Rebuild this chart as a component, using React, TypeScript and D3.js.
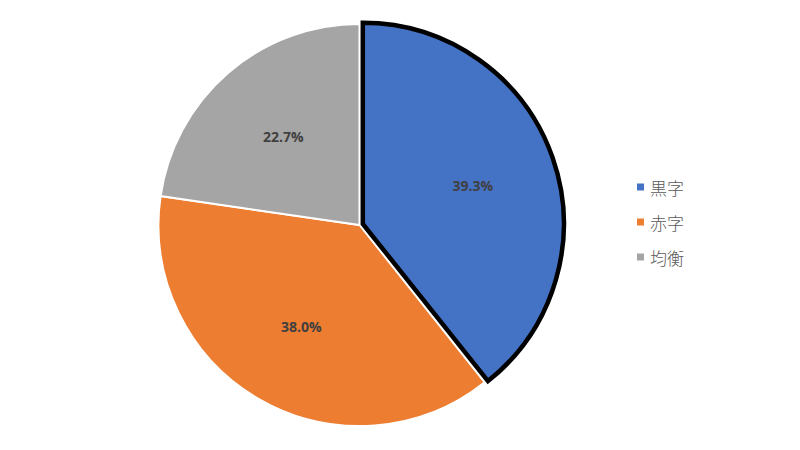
import React, { useEffect, useRef } from "react";
import * as d3 from "d3";

const categories = ["黒字", "赤字", "均衡"];
const values = [39.3, 38.0, 22.7];
const colors = ["#4472C4", "#ED7D31", "#A5A5A5"];

export default function App() {
  const ref = useRef<SVGSVGElement>(null);
  useEffect(() => {
    const width = 800;
    const height = 450;
    const cx = 359.5;
    const cy = 225;
    const radius = 201;
    const svg = d3.select(ref.current).attr("width", width).attr("height", height);
    svg.selectAll("*").remove();
    svg.append("rect").attr("width", width).attr("height", height).attr("fill", "#fff");

    const pie = d3.pie<number>().sort(null).value((d) => d);
    const arcs = pie(values);
    const arc = d3.arc<d3.PieArcDatum<number>>().innerRadius(0).outerRadius(radius);
    const labelArc = d3.arc<d3.PieArcDatum<number>>().innerRadius(radius * 0.58).outerRadius(radius * 0.58);

    const g = svg.append("g").attr("transform", `translate(${cx},${cy})`);

    // explode the selected (first) slice a little
    const offset = (d: d3.PieArcDatum<number>, i: number) => {
      if (i !== 0) return [0, 0];
      const a = (d.startAngle + d.endAngle) / 2;
      return [Math.sin(a) * 3.5, -Math.cos(a) * 3.5];
    };

    const order = [1, 2, 0];
    order.forEach((i) => {
      const d = arcs[i];
      const [ox, oy] = offset(d, i);
      g.append("path")
        .attr("d", arc(d))
        .attr("transform", `translate(${ox},${oy})`)
        .attr("fill", colors[i])
        .attr("stroke", i === 0 ? "#000" : "#fff")
        .attr("stroke-width", i === 0 ? 4.5 : 2)
        .attr("stroke-linejoin", "miter");
    });

    arcs.forEach((d, i) => {
      const [ox, oy] = offset(d, i);
      const [x, y] = labelArc.centroid(d);
      g.append("text")
        .attr("x", x + ox)
        .attr("y", y + oy)
        .attr("text-anchor", "middle")
        .attr("dominant-baseline", "central")
        .attr("font-family", "'Open Sans', 'Liberation Sans', sans-serif")
        .attr("font-weight", "bold")
        .attr("font-size", 14)
        .attr("fill", "#404040")
        .text(`${d.data.toFixed(1)}%`);
    });

    const legend = svg.append("g").attr("transform", "translate(637,187)");
    categories.forEach((c, i) => {
      const row = legend.append("g").attr("transform", `translate(0,${i * 35})`);
      row.append("rect").attr("x", 0).attr("y", -3.5).attr("width", 7).attr("height", 7).attr("fill", colors[i]);
      row.append("text")
        .attr("x", 13)
        .attr("y", 0)
        .attr("dominant-baseline", "central")
        .attr("font-family", "'Noto Sans CJK JP', sans-serif")
        .attr("font-weight", 300)
        .attr("font-size", 17)
        .attr("fill", "#595959")
        .text(c);
    });
  }, []);

  return (
    <div>
      <svg ref={ref} style={{ position: "absolute", left: 0, top: 0 }}></svg>
    </div>
  );
}
